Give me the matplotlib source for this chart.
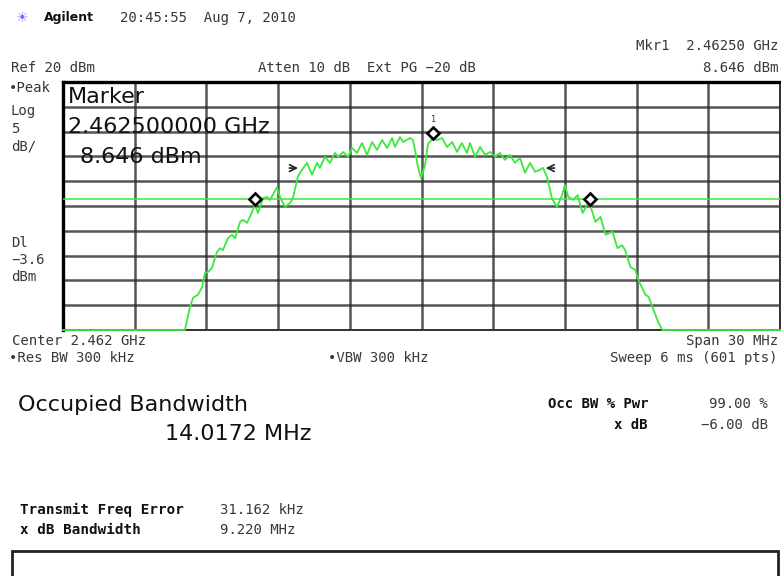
import matplotlib.pyplot as plt
import matplotlib.transforms as mtransforms
import numpy as np

# analyzer settings
center_ghz = 2.462
span_mhz = 30.0
ref_dbm = 20.0
db_per_div = 5.0
display_line_dbm = -3.6
marker_ghz = 2.46250
marker_dbm = 8.646
occ_bw_mhz = 14.0172
freq_error_khz = 31.162

# trace: offset from centre (MHz) and level (dBm)
trace_offset = [-15.0, -9.90, -9.69, -9.56, -9.35, -9.18, -9.06, -8.93, -8.77, -8.56,
                -8.43, -8.31, -8.10, -7.93, -7.80, -7.59, -7.47, -7.30, -7.09, -6.97,
                -6.84, -6.63, -6.46, -6.34, -6.05, -5.92, -5.71, -5.50, -5.38, -5.17,
                -5.00, -4.79, -4.58, -4.37, -4.25, -4.04, -3.83, -3.62, -3.49, -3.28,
                -3.07, -2.91, -2.70, -2.49, -2.28, -2.07, -1.86, -1.65, -1.44, -1.23,
                -1.11, -0.90, -0.77, -0.48, -0.36, -0.27, -0.15, -0.02, 0.15, 0.27,
                0.48, 0.65, 0.86, 1.07, 1.28, 1.49, 1.69, 1.90, 2.03, 2.24,
                2.45, 2.66, 2.87, 3.08, 3.28, 3.49, 3.70, 3.91, 4.12, 4.33,
                4.54, 4.75, 4.96, 5.08, 5.25, 5.46, 5.67, 5.88, 6.00, 6.13,
                6.34, 6.53, 6.74, 6.86, 6.99, 7.16, 7.28, 7.49, 7.70, 7.99,
                8.20, 8.39, 8.52, 8.74, 8.95, 9.07, 9.37, 9.50, 9.71, 9.92,
                10.08, 15.0]
trace_dbm = [-30.0, -30.0, -25.4, -23.5, -22.9, -21.3, -18.5, -18.3, -17.5, -14.3,
             -13.5, -13.9, -11.5, -10.8, -11.5, -8.2, -7.8, -8.4, -6.2, -4.8,
             -6.4, -3.4, -3.2, -3.8, -1.2, -3.2, -5.2, -4.4, -3.4, 1.0,
             2.3, 3.7, 1.3, 3.7, 2.7, 4.9, 3.7, 5.7, 4.9, 5.9,
             4.9, 6.7, 5.7, 7.7, 5.3, 7.9, 6.3, 8.3, 6.7, 8.7,
             6.9, 8.9, 7.9, 8.7, 8.3, 6.3, 2.9, 0.6, 3.3, 7.5,
             8.646, 8.3, 8.7, 6.9, 7.9, 5.9, 7.7, 5.7, 7.7, 4.9,
             6.9, 5.3, 5.9, 4.9, 5.7, 4.3, 5.3, 3.7, 4.7, 1.7,
             3.7, 1.9, 2.3, 2.7, 0.9, -3.5, -5.2, -2.8, -0.8, -3.0,
             -3.8, -2.8, -6.4, -5.4, -3.8, -6.4, -8.2, -7.2, -10.8, -10.2,
             -13.5, -12.9, -13.9, -17.3, -17.9, -19.9, -22.9, -23.3, -26.0, -28.6,
             -30.0, -30.0]

# -6 dB points (MHz offset) where the arrows sit
xdb_offset = [-5.05, 5.08]

W, H = 781, 576
MONO = 'DejaVu Sans Mono'
SANS = 'DejaVu Sans'
fig = plt.figure(figsize=(W / 100, H / 100), dpi=100)
fig.patch.set_facecolor('white')

ax = fig.add_axes([63 / W, 1 - 330 / H, 717 / W, 248 / H])
f_lo = center_ghz - span_mhz / 2000
f_hi = center_ghz + span_mhz / 2000
ax.set_xlim(f_lo, f_hi)
ax.set_ylim(ref_dbm - 10 * db_per_div, ref_dbm)
ax.set_xticks(np.linspace(f_lo, f_hi, 11))
ax.set_yticks(np.arange(ref_dbm - 10 * db_per_div, ref_dbm + 0.1, db_per_div))
ax.tick_params(length=0, labelbottom=False, labelleft=False)
ax.grid(True, color='#2a2a2a', lw=1.8, alpha=0.8)
for side in ['top', 'left']:
    ax.spines[side].set_linewidth(2.4)
for side in ['bottom', 'right']:
    ax.spines[side].set_linewidth(1.4)
    ax.spines[side].set_color('#333333')

freq = center_ghz + np.array(trace_offset) / 1000
green = '#3be83b'
ax.plot(freq, trace_dbm, color=green, lw=1.3, clip_on=False, zorder=3)
ax.axhline(display_line_dbm, color=green, lw=1.1, zorder=3)

# marker 1, drawn just above the trace point
up = mtransforms.offset_copy(ax.transData, fig=fig, x=0, y=5, units='dots')
ax.plot([marker_ghz], [marker_dbm], marker='D', ms=6.5, mfc='white', mec='black',
        mew=1.9, transform=up, zorder=5)
ax.text(marker_ghz, marker_dbm, '1', transform=mtransforms.offset_copy(
    ax.transData, fig=fig, x=0, y=14, units='dots'),
    ha='center', va='bottom', fontsize=6, color='#333333', family=MONO)

# occupied bandwidth edges
occ_center = center_ghz + freq_error_khz / 1e6
for edge in (occ_center - occ_bw_mhz / 2000, occ_center + occ_bw_mhz / 2000):
    ax.plot([edge], [display_line_dbm], marker='D', ms=6.5, mfc='white', mec='black',
            mew=1.9, zorder=5)

# -6 dB arrows
xdb_level = marker_dbm - 6
arrow = dict(arrowstyle='->', color='#222222', lw=1.2, mutation_scale=12)
ax.annotate('', xy=(center_ghz + xdb_offset[0] / 1000, xdb_level),
            xytext=(center_ghz + (xdb_offset[0] - 0.6) / 1000, xdb_level),
            arrowprops=arrow)
ax.annotate('', xy=(center_ghz + xdb_offset[1] / 1000, xdb_level),
            xytext=(center_ghz + (xdb_offset[1] + 0.6) / 1000, xdb_level),
            arrowprops=arrow)


def label(x, y, s, size=10.1, ha='left', weight='normal', color='#383838',
          family=MONO):
    fig.text(x / W, 1 - y / H, s, fontsize=size, ha=ha, va='center',
             fontweight=weight, color=color, family=family)


# marker readout inside the graticule
label(68, 97, 'Marker', size=16, color='#111111', family=SANS)
label(68, 127, '2.462500000 GHz', size=16, color='#111111', family=SANS)
label(80, 157, '8.646 dBm', size=16, color='#111111', family=SANS)

label(22, 18, '\u2600', size=10, ha='center', color='#7070ff', family=SANS)
label(44, 18, 'Agilent', size=9, weight='bold', color='#111111', family=SANS)
label(120, 18, '20:45:55  Aug 7, 2010')
label(778, 46, 'Mkr1  2.46250 GHz', ha='right')
label(11, 68, 'Ref 20 dBm')
label(258, 68, 'Atten 10 dB  Ext PG \u221220 dB')
label(778, 68, '8.646 dBm', ha='right')

label(9, 88, '\u2022Peak')
label(11, 111, 'Log')
label(11, 129, '5')
label(11, 146, 'dB/')
label(11, 243, 'Dl')
label(11, 260, '\u22123.6')
label(11, 277, 'dBm')

label(12, 341, 'Center 2.462 GHz')
label(778, 341, 'Span 30 MHz', ha='right')
label(9, 358, '\u2022Res BW 300 kHz')
label(328, 358, '\u2022VBW 300 kHz')
label(778, 358, 'Sweep 6 ms (601 pts)', ha='right')

label(18, 405, 'Occupied Bandwidth', size=16, color='#111111', family=SANS)
label(165, 434, '%.4f MHz' % occ_bw_mhz, size=16, color='#111111', family=SANS)
label(648, 404, 'Occ BW % Pwr', ha='right', weight='bold', color='#111111')
label(768, 404, '99.00 %', ha='right')
label(648, 425, 'x dB', ha='right', weight='bold', color='#111111')
label(768, 425, '\u22126.00 dB', ha='right')

label(20, 510, 'Transmit Freq Error', size=10.3, weight='bold', color='#111111')
label(220, 510, '%.3f kHz' % freq_error_khz)
label(20, 530, 'x dB Bandwidth', size=10.3, weight='bold', color='#111111')
label(220, 530, '9.220 MHz')

fig.patches.append(plt.Rectangle((12 / W, -0.02), 766 / W, (576 - 551) / H + 0.02,
                                 transform=fig.transFigure, fill=False,
                                 ec='#222222', lw=2.0))

fig.savefig('out.png', dpi=100)
